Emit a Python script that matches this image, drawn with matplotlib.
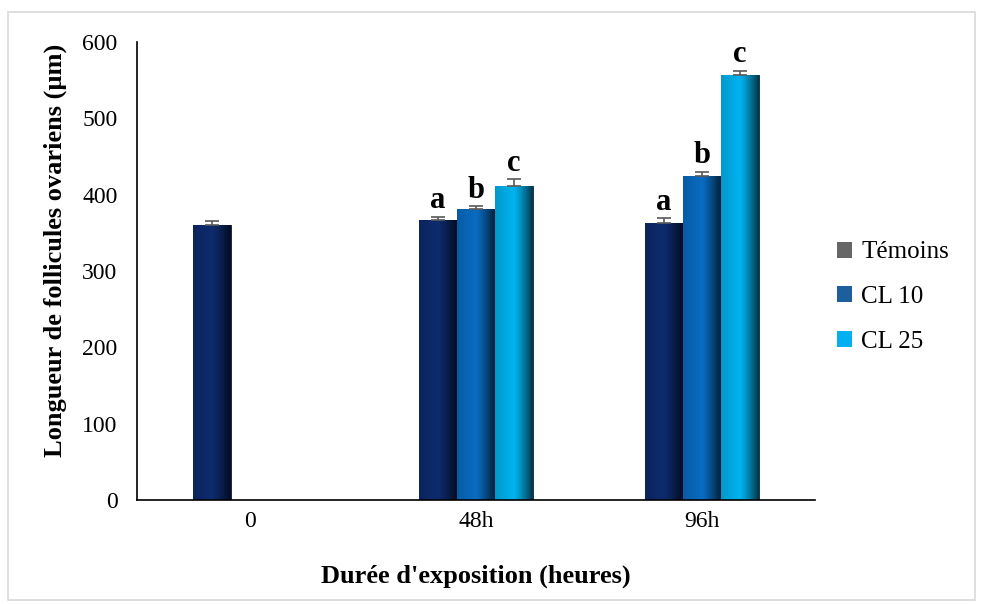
import numpy as np
import matplotlib
matplotlib.use('Agg')
import matplotlib.pyplot as plt
from matplotlib.patches import Rectangle, Patch
from matplotlib.colors import to_rgb

plt.rcParams['font.family'] = ['Liberation Serif', 'DejaVu Serif']

# donnees
categories = ['0', '48h', '96h']
series = ['Témoins', 'CL 10', 'CL 25']
temoins = [360, 367, 363]
cl10 = [np.nan, 381, 424]
cl25 = [np.nan, 411, 557]
err_temoins = [5, 4, 6]
err_cl10 = [0, 4, 6]
err_cl25 = [0, 9, 5]
lettres = [['', 'a', 'a'], ['', 'b', 'b'], ['', 'c', 'c']]

bar_colors = ['#0d2b6e', '#0a6cc2', '#00b4f0']
legend_colors = ['#666666', '#1d5e9c', '#00b0f0']

fig = plt.figure(figsize=(9.81, 6.04), dpi=100)
ax = fig.add_axes([137 / 981, 104 / 604, 678 / 981, 458 / 604])

# cadre gris autour de la figure
fig.patches.append(Rectangle((8 / 981, 4 / 604), 967 / 981, 588 / 604,
                             transform=fig.transFigure, fill=False,
                             edgecolor='#d9d9d9', linewidth=1.2))

x = np.arange(len(categories))
w = 0.168
values = [temoins, cl10, cl25]
errs = [err_temoins, err_cl10, err_cl25]

def shade(ax, bar, color):
    # degrade horizontal pour imiter l'effet 3D
    base = np.array(to_rgb(color))
    t = np.linspace(0, 1, 64)
    f = np.where(t < 0.5, 0.85 + 0.3 * t, 1.0 - 1.6 * (t - 0.5) ** 1.2)
    f = np.clip(f, 0.15, 1.0)
    img = (base[None, :] * f[:, None])[None, :, :]
    x0, y0 = bar.get_x(), bar.get_y()
    bw, bh = bar.get_width(), bar.get_height()
    im = ax.imshow(img, extent=[x0, x0 + bw, y0, y0 + bh], aspect='auto',
                   interpolation='bilinear', zorder=2)
    im.set_clip_path(bar)

for i in range(3):
    vals = values[i]
    bars = ax.bar(x + (i - 1) * w, vals, w, color=bar_colors[i],
                  edgecolor='#0a1a33', linewidth=0.6, zorder=2)
    for j, b in enumerate(bars):
        if np.isnan(vals[j]):
            continue
        shade(ax, b, bar_colors[i])
        ax.errorbar(b.get_x() + w / 2, vals[j], yerr=[[0], [errs[i][j]]],
                    fmt='none', ecolor='#595959', elinewidth=1.2,
                    capsize=5, capthick=1.2, zorder=3)
        if lettres[i][j]:
            ax.text(b.get_x() + w / 2, vals[j] + errs[i][j] + 2, lettres[i][j],
                    ha='center', va='bottom', fontsize=22, fontweight='bold')

ax.set_xlim(-0.5, 2.5)
ax.set_ylim(0, 600)
ax.set_yticks(range(0, 601, 100))
ax.set_xticks(x)
ax.set_xticklabels(categories)
ax.tick_params(length=0, labelsize=17, pad=8)
ax.tick_params(axis='y', pad=14)
for s in ['top', 'right']:
    ax.spines[s].set_visible(False)
ax.spines['left'].set_linewidth(1.2)
ax.spines['bottom'].set_linewidth(1.2)

ax.set_xlabel("Durée d'exposition (heures)", fontsize=19, fontweight='bold')
ax.set_ylabel('Longueur de follicules ovariens (µm)', fontsize=19, fontweight='bold')
ax.xaxis.set_label_coords(0.5, -0.142)
ax.yaxis.set_label_coords(-0.103, 0.544)

handles = [Patch(facecolor=c, edgecolor='none') for c in legend_colors]
fig.legend(handles, series, loc='center left', bbox_to_anchor=(827 / 981, 1 - 297 / 604),
           frameon=False, fontsize=18, handlelength=0.6, handleheight=0.6,
           handletextpad=0.36, labelspacing=0.9, borderaxespad=0)

plt.savefig('out.png', dpi=100)
